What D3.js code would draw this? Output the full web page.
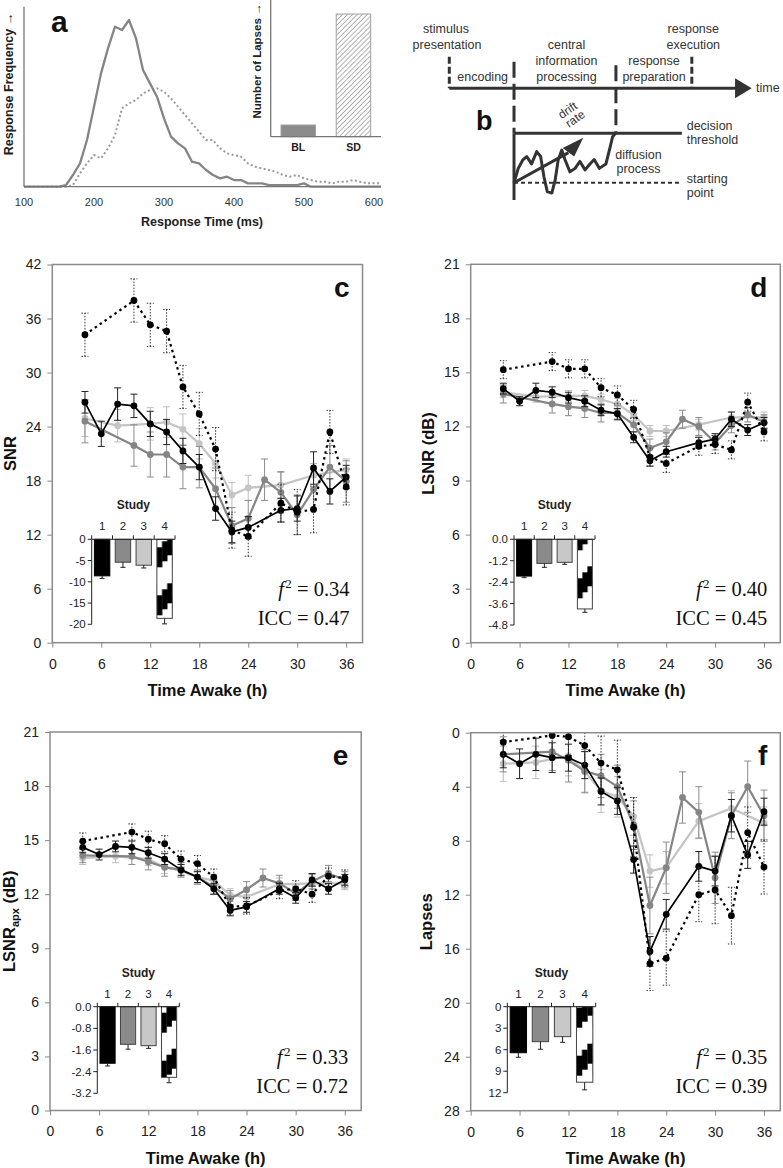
<!DOCTYPE html>
<html><head><meta charset="utf-8">
<script src="https://cdn.jsdelivr.net/npm/d3@7"></script>
<style>body{margin:0;background:#fff}svg{display:block}</style>
</head><body>
<svg id="chart" width="783" height="1168"></svg>
<script>
// ---------------- DATA ----------------
// Panel a: response time distributions
const rtMs   = [100,140,150,160,170,180,190,200,210,220,230,240,250,260,270,280,290,300,310,320,330,340,350,360,370,380,390,400,410,420,430,440,450,460,470,480,490,500,510,520,530,540,550,560,570,580,590,600,610];
const blFreq = [0,0,0,1,7,14,28,48,68,83,96,94,100,89,70,62,54,41,30,26,23,15,14,10,7,5,6,4,4,2,2,2,1,1,1,1,1,2,0,0,0,0,0,0,0,0,0,0,0];
const sdFreq = [0,0,0,0,1,8,14,19,17,23,31,47,50,52,56,58,59,57,53,48,43,38,33,28,28,23,20,19,18,14,12,11,10,9,7,6,7,5,4,3,3,2,3,3,4,3,2,2,2];
const rtTicks = [100,200,300,400,500,600];
const lapseCats = ['BL','SD'];
const lapseVals = [10,105];

// Panel b: schematic (time units 0-100, evidence units: start 0, threshold 1)
const stageBounds = [0,21.4,55.1,80.2];
const diffT = [21.4,22.8,24.3,25.6,27.2,28.9,30.2,31.3,32.4,33.9,35.0,36.0,37.2,38.3,39.9,41.6,43.2,44.9,46.5,47.9,49.6,51.8,53.1,54.0,55.1];
const diffE = [0,0.29,0.46,0.53,0.38,0.63,0.53,0.12,-0.18,-0.21,0.05,0.46,0.66,0.46,0.22,0.29,0.43,0.26,0.38,0.47,0.29,0.38,0.70,0.93,1.01];

// Panels c-f
const studies = ['1','2','3','4'];
const xTicks = [0,6,12,18,24,30,36];
const hoursS1 = [4,6,8,10,12,14,16,18,20,22,24,28,30,32,34,36];
const hoursS2 = [4,10,12,14,16,18,20,22,24,26,28,30,32,34,36];
const hoursS3 = [4,8,12,14,16,18,20,22,24,28,32,36];
const hoursS4 = [4,10,12,14,16,18,20,22,24,28,30,32,34,36];

const snrTicks = [0,6,12,18,24,30,36,42];
const snrS1 = [26.7,23.2,26.5,26.3,24.3,23.4,21.3,19.5,14.9,12.3,12.8,14.7,14.9,19.4,16.8,18.4];
const snrS1Err = [1.2,1.4,1.8,1.3,1.4,1.4,1.4,1.4,1.3,1.2,1.2,1.3,1.4,1.8,1.4,1.3];
const snrS2 = [24.6,21.9,20.9,20.9,19.5,19.5,17.1,13.0,13.8,18.1,16.7,14.2,17.0,19.5,17.9];
const snrS2Err = [2.4,2.3,2.5,2.5,2.4,2.3,2.3,2.0,2.0,2.3,2.3,2.2,2.2,2.4,2.3];
const snrS3 = [24.9,24.1,24.3,24.5,23.7,22.1,19.9,16.4,17.2,17.5,18.6,19.2];
const snrS3Err = [2.0,1.8,1.8,1.7,1.7,1.7,1.6,1.4,1.4,1.4,1.3,1.2];
const snrS4 = [34.2,38.0,35.3,34.6,28.4,25.4,21.5,12.5,11.8,15.5,14.5,14.8,23.4,17.3];
const snrS4Err = [2.4,2.4,2.4,2.4,2.4,2.4,2.4,2.0,2.2,2.1,2.5,2.6,2.4,2.0];

const lsnrTicks = [0,3,6,9,12,15,18,21];
const lsnrS1 = [14.1,13.4,14.0,13.9,13.6,13.4,12.9,12.7,11.4,10.1,10.6,11.1,11.3,12.4,11.8,12.2];
const lsnrS1Err = [0.3,0.25,0.4,0.3,0.3,0.3,0.3,0.3,0.3,0.3,0.3,0.3,0.3,0.4,0.3,0.3];
const lsnrS2 = [13.8,13.25,13.1,13.0,12.75,12.75,12.1,10.8,11.15,12.4,12.0,11.1,12.05,12.65,12.25];
const lsnrS2Err = [0.5,0.5,0.5,0.5,0.5,0.4,0.4,0.5,0.5,0.5,0.5,0.4,0.4,0.4,0.4];
const lsnrS3 = [13.9,13.65,13.7,13.7,13.5,13.25,12.65,11.75,11.75,12.1,12.5,12.5];
const lsnrS3Err = [0.3,0.3,0.3,0.3,0.3,0.3,0.3,0.3,0.3,0.3,0.3,0.3];
const lsnrS4 = [15.15,15.6,15.2,15.2,14.15,13.75,12.95,10.3,9.95,10.9,11.0,10.7,13.35,11.7];
const lsnrS4Err = [0.5,0.5,0.5,0.5,0.5,0.5,0.5,0.5,0.5,0.5,0.5,0.5,0.5,0.5];

const apxTicks = [0,3,6,9,12,15,18,21];
const apxS1 = [14.6,14.2,14.65,14.6,14.3,13.95,13.35,12.95,12.3,11.1,11.3,12.3,11.8,12.8,12.3,12.8];
const apxS1Err = [0.3,0.3,0.3,0.35,0.3,0.3,0.3,0.3,0.3,0.3,0.3,0.3,0.3,0.35,0.3,0.3];
const apxS2 = [14.15,14.1,13.8,13.5,13.35,12.95,12.4,11.75,12.25,12.9,12.6,12.05,12.7,13.15,12.8];
const apxS2Err = [0.4,0.45,0.45,0.5,0.4,0.4,0.4,0.45,0.45,0.5,0.45,0.4,0.4,0.45,0.45];
const apxS3 = [14.0,14.1,13.95,13.5,13.3,12.95,12.75,11.95,11.85,12.55,12.6,12.6];
const apxS3Err = [0.35,0.35,0.35,0.35,0.35,0.35,0.35,0.35,0.35,0.35,0.35,0.35];
const apxS4 = [14.95,15.45,15.05,14.8,13.95,13.7,12.95,11.3,11.35,12.2,12.3,12.0,13.0,12.9];
const apxS4Err = [0.45,0.45,0.45,0.45,0.45,0.45,0.45,0.45,0.45,0.45,0.45,0.45,0.45,0.45];

const lapTicks = [0,4,8,12,16,20,24,28];
const lapS1 = [1.6,2.3,1.6,1.85,1.85,2.4,4.35,5.05,9.4,16.2,13.45,9.9,10.25,6.15,9.05,5.85];
const lapS1Err = [1.0,1.1,1.2,1.1,1.0,1.0,1.0,1.0,1.0,1.1,1.1,1.1,1.1,1.2,1.0,1.0];
const lapS2 = [1.6,1.4,2.05,2.85,3.2,4.0,6.85,12.8,10.0,4.8,5.9,10.75,6.15,4.0,6.15];
const lapS2Err = [1.3,1.4,1.6,1.6,1.6,1.6,1.8,2.1,1.9,1.9,1.9,1.9,1.7,1.9,1.9];
const lapS3 = [2.3,2.2,1.7,2.9,4.3,4.75,6.2,10.25,10.0,6.55,5.6,6.7];
const lapS3Err = [1.3,1.2,1.5,1.5,1.6,1.5,1.4,1.2,1.2,1.3,1.3,1.2];
const lapS4 = [0.7,0.2,0.3,0.95,2.25,2.75,7.0,17.1,16.7,12.0,11.65,13.55,7.4,9.95];
const lapS4Err = [1.0,1.4,1.4,1.4,2.0,2.2,2.2,2.0,2.0,2.0,2.5,2.1,1.9,2.0];

// Insets (study effect)
const insetSNR = [-8.6,-5.4,-6.1,-18.6];
const insetSNRErr = [0.6,1.2,0.65,1.3];
const insetSNRTicks = [0,-5,-10,-15,-20];
const insetLSNR = [-2.06,-1.35,-1.29,-3.9];
const insetLSNRErr = [0.09,0.22,0.11,0.19];
const insetLSNRTicks = [0,-1.2,-2.4,-3.6,-4.8];
const insetApx = [-2.09,-1.39,-1.44,-2.61];
const insetApxErr = [0.1,0.18,0.1,0.2];
const insetApxTicks = [0,-0.8,-1.6,-2.4,-3.2];
const insetLapse = [6.42,4.88,4.18,10.54];
const insetLapseErr = [0.64,1.06,0.79,1.06];
const insetLapseTicks = [0,3,6,9,12];

// ---------------- DRAWING ----------------
const SANS = "'Liberation Sans', Arial, Helvetica, sans-serif";
const SERIF = "'Liberation Serif', 'Times New Roman', serif";
const svg = d3.select('#chart');
const defs = svg.append('defs');

// ===== Panel a =====
(function(){
  const g = svg.append('g');
  const x = d3.scaleLinear().domain([100,610]).range([24,381]);
  const y = d3.scaleLinear().domain([0,108]).range([186.7,6.7]);
  const pts = rtMs.map((m,i)=>({m, bl: blFreq[i], sd: sdFreq[i]}));
  const line = k => d3.line().x(d=>x(d.m)).y(d=>y(d[k]));
  g.append('path').datum(pts).attr('d', line('sd')).attr('fill','none')
    .attr('stroke','#9a9a9a').attr('stroke-width',2).attr('stroke-dasharray','2,2.5');
  g.append('path').datum(pts).attr('d', line('bl')).attr('fill','none')
    .attr('stroke','#858585').attr('stroke-width',2.3).attr('stroke-linejoin','round');
  // axes
  g.append('line').attr('x1',x(100)).attr('x2',x(100)).attr('y1',y(108)).attr('y2',y(0)).attr('stroke','#777').attr('stroke-width',1.3);
  g.append('line').attr('x1',x(100)).attr('x2',x(610)).attr('y1',y(0)).attr('y2',y(0)).attr('stroke','#777').attr('stroke-width',1.3);
  g.selectAll('text.rt').data(rtTicks).join('text').attr('x',d=>x(d)).attr('y',206)
    .attr('text-anchor','middle').attr('font-family',SANS).attr('font-size',11).style('fill','#333').text(d=>d);
  g.append('text').attr('x',202).attr('y',226).attr('text-anchor','middle').attr('font-family',SANS)
    .attr('font-weight','bold').attr('font-size',12.5).attr('fill','#222').text('Response Time (ms)');
  g.append('text').attr('transform','translate(12.5,84) rotate(-90)').attr('text-anchor','middle')
    .attr('font-family',SANS).attr('font-weight','bold').attr('font-size',12.5).attr('fill','#222').text('Response Frequency \u2192');
  g.append('text').attr('x',51).attr('y',32).attr('font-family',SANS).attr('font-weight','bold').attr('font-size',30).attr('fill','#111').text('a');

  // inset bars
  const pat = defs.append('pattern').attr('id','hatch').attr('patternUnits','userSpaceOnUse')
    .attr('width',3.5).attr('height',3.5).attr('patternTransform','rotate(45)');
  pat.append('rect').attr('width',3.5).attr('height',3.5).attr('fill','#fff');
  pat.append('line').attr('x1',0).attr('y1',0).attr('x2',0).attr('y2',3.5).attr('stroke','#8a8a8a').attr('stroke-width',1.3);
  const lx = d3.scaleBand().domain(lapseCats).range([270.7,381]).paddingInner(0.375).paddingOuter(0.187);
  const ly = d3.scaleLinear().domain([0,117]).range([136.7,0]);
  g.selectAll('rect.lb').data(lapseCats).join('rect')
    .attr('x',d=>lx(d)).attr('width',lx.bandwidth())
    .attr('y',(d,i)=>ly(lapseVals[i])).attr('height',(d,i)=>ly(0)-ly(lapseVals[i]))
    .attr('fill',(d,i)=>i===0?'#8c8c8c':'url(#hatch)').attr('stroke','#a0a0a0').attr('stroke-width',1);
  g.append('line').attr('x1',270.7).attr('x2',270.7).attr('y1',0).attr('y2',ly(0)).attr('stroke','#777').attr('stroke-width',1.3);
  g.append('line').attr('x1',270.7).attr('x2',381).attr('y1',ly(0)).attr('y2',ly(0)).attr('stroke','#777').attr('stroke-width',1.3);
  g.selectAll('text.lc').data(lapseCats).join('text').attr('x',d=>lx(d)+lx.bandwidth()/2).attr('y',150.5)
    .attr('text-anchor','middle').attr('font-family',SANS).attr('font-weight','bold').attr('font-size',10.5).attr('fill','#222').text(d=>d);
  g.append('text').attr('transform','translate(261,61) rotate(-90)').attr('text-anchor','middle')
    .attr('font-family',SANS).attr('font-weight','bold').attr('font-size',11.5).attr('fill','#222').text('Number of Lapses \u2192');
})();

// ===== Panel b =====
(function(){
  const g = svg.append('g');
  const bx = d3.scaleLinear().domain([0,100]).range([449.3,751.7]);
  const by = d3.scaleLinear().domain([0,1]).range([182.7,133.3]);
  const C = '#333';
  const axisLv = 1.91;
  g.append('line').attr('x1',bx(0)).attr('x2',bx(95)).attr('y1',by(axisLv)).attr('y2',by(axisLv)).attr('stroke',C).attr('stroke-width',3);
  g.append('polygon').attr('points',[[bx(94.5),by(axisLv)-10],[bx(100),by(axisLv)],[bx(94.5),by(axisLv)+10]].join(' ')).attr('fill',C);
  const vmark = (t, e0, e1, dash) => g.append('line').attr('x1',bx(t)).attr('x2',bx(t)).attr('y1',by(e0)).attr('y2',by(e1))
      .attr('stroke',C).attr('stroke-width',3).attr('stroke-dasharray',dash);
  vmark(stageBounds[0], 2.55, axisLv, '7,3');
  vmark(stageBounds[1], 2.45, 1, '16,6');
  vmark(stageBounds[1], 1, -0.35, null);
  vmark(stageBounds[2], 2.38, 1, '16,6');
  vmark(stageBounds[3], 2.55, axisLv, '7,3');
  g.append('line').attr('x1',bx(stageBounds[1])).attr('x2',bx(76.9)).attr('y1',by(1)).attr('y2',by(1)).attr('stroke',C).attr('stroke-width',3);
  g.append('line').attr('x1',bx(stageBounds[1])).attr('x2',bx(76.9)).attr('y1',by(0)).attr('y2',by(0)).attr('stroke',C).attr('stroke-width',2).attr('stroke-dasharray','4,3');
  const dp = diffT.map((t,i)=>[t,diffE[i]]);
  g.append('path').datum(dp).attr('d',d3.line().x(d=>bx(d[0])).y(d=>by(d[1]))).attr('fill','none')
    .attr('stroke',C).attr('stroke-width',3).attr('stroke-linejoin','round');
  g.append('line').attr('x1',bx(21.4)).attr('y1',by(0)).attr('x2',bx(39.4)).attr('y2',by(0.61)).attr('stroke',C).attr('stroke-width',3);
  g.append('polygon').attr('points',[[bx(37.5),by(0.70)],[bx(44.3),by(0.91)],[bx(41.3),by(0.53)]].join(' ')).attr('fill',C);
  const T = (s,x,y,anchor,size) => g.append('text').attr('x',x).attr('y',y).attr('text-anchor',anchor||'middle')
      .attr('font-family',SANS).attr('font-size',size||12.5).attr('fill','#333').text(s);
  T('stimulus',446,33); T('presentation',447,48.5);
  T('encoding',482.7,80.5);
  T('central',566.5,48.5); T('information',566.5,64.5); T('processing',566.5,80.5);
  T('response',654,64.5); T('preparation',654,80.5);
  T('response',693.3,33); T('execution',693.3,48.5);
  T('time',756,91.5,'start');
  T('decision',686.7,129.5,'start'); T('threshold',686.7,143.8,'start');
  T('diffusion',638.5,158.5); T('process',638.5,172.8);
  T('starting',686.7,182.8,'start'); T('point',686.7,197.2,'start');
  g.append('text').attr('transform','translate(570,113.5) rotate(-35)').attr('text-anchor','middle').attr('font-family',SANS).attr('font-size',12).attr('fill','#333').text('drift');
  g.append('text').attr('transform','translate(577.5,122) rotate(-35)').attr('text-anchor','middle').attr('font-family',SANS).attr('font-size',12).attr('fill','#333').text('rate');
  g.append('text').attr('x',476).attr('y',130).attr('font-family',SANS).attr('font-weight','bold').attr('font-size',27).attr('fill','#111').text('b');
})();

// ===== Panels c-f =====
const panels = [
  {id:'c', left:52.3, top:264.5, bottom:642.7, pxh:8.164, yMax:42, yTicks:snrTicks, inverted:false,
   s:[snrS1,snrS2,snrS3,snrS4], e:[snrS1Err,snrS2Err,snrS3Err,snrS4Err],
   yTitle:[{t:'SNR'}], yTitleX:15.5, f2:'0.34', icc:'0.47',
   inset:{x0:91.7, top:539.3, bottom:624.3, w:83.3, vals:insetSNR, errs:insetSNRErr, ticks:insetSNRTicks, dec:0, phase:-4}},
  {id:'d', left:470.7, top:264.3, bottom:642.7, pxh:8.147, yMax:21, yTicks:lsnrTicks, inverted:false,
   s:[lsnrS1,lsnrS2,lsnrS3,lsnrS4], e:[lsnrS1Err,lsnrS2Err,lsnrS3Err,lsnrS4Err],
   yTitle:[{t:'LSNR (dB)'}], yTitleX:433.5, f2:'0.40', icc:'0.45',
   inset:{x0:514, top:539.3, bottom:625, w:81, vals:insetLSNR, errs:insetLSNRErr, ticks:insetLSNRTicks, dec:1, phase:27}},
  {id:'e', left:50, top:732, bottom:1110.5, pxh:8.19, yMax:21, yTicks:apxTicks, inverted:false,
   s:[apxS1,apxS2,apxS3,apxS4], e:[apxS1Err,apxS2Err,apxS3Err,apxS4Err],
   yTitle:[{t:'LSNR'},{t:'apx',sub:true},{t:' (dB)'}], yTitleX:14.5, f2:'0.33', icc:'0.72',
   inset:{x0:97.3, top:1006.7, bottom:1093.3, w:82, vals:insetApx, errs:insetApxErr, ticks:insetApxTicks, dec:1, phase:-6}},
  {id:'f', left:470.7, top:732.7, bottom:1110.7, pxh:8.147, yMax:28, yTicks:lapTicks, inverted:true,
   s:[lapS1,lapS2,lapS3,lapS4], e:[lapS1Err,lapS2Err,lapS3Err,lapS4Err],
   yTitle:[{t:'Lapses'}], yTitleX:432, f2:'0.35', icc:'0.39',
   inset:{x0:507.3, top:1006.7, bottom:1092.7, w:88.4, vals:insetLapse, errs:insetLapseErr, ticks:insetLapseTicks, dec:0, phase:37}}
];
const hoursAll = [hoursS1,hoursS2,hoursS3,hoursS4];
const sColor = ['#000','#858585','#c4c4c4','#000'];
const eColor = ['#222','#8c8c8c','#bdbdbd','#333'];
const sWidth = [1.7,2.2,2.2,2.2];

panels.forEach(p=>{
  const g = svg.append('g');
  const right = p.left + 38*p.pxh;
  const x = d3.scaleLinear().domain([0,38]).range([p.left,right]);
  const y = d3.scaleLinear().domain([0,p.yMax]).range(p.inverted?[p.top,p.bottom]:[p.bottom,p.top]);
  defs.append('clipPath').attr('id','clip-'+p.id).append('rect')
    .attr('x',p.left).attr('y',p.top).attr('width',right-p.left).attr('height',p.bottom-p.top);

  const xa = g.append('g').attr('transform',`translate(0,${p.bottom})`)
    .call(d3.axisBottom(x).tickValues(xTicks).tickSize(5).tickSizeOuter(0).tickPadding(11));
  xa.select('.domain').remove();
  xa.selectAll('line').attr('stroke','#8a8a8a');
  xa.selectAll('text').attr('font-family',SANS).attr('font-size',14).attr('fill','#222');
  const ya = g.append('g').attr('transform',`translate(${p.left},0)`)
    .call(d3.axisLeft(y).tickValues(p.yTicks).tickSize(5).tickSizeOuter(0).tickPadding(6));
  ya.select('.domain').remove();
  ya.selectAll('line').attr('stroke','#8a8a8a');
  ya.selectAll('text').attr('font-family',SANS).attr('font-size',14).attr('fill','#222');

  g.append('text').attr('x',(p.left+right)/2).attr('y',p.bottom+53).attr('text-anchor','middle')
    .attr('font-family',SANS).attr('font-weight','bold').attr('font-size',16.5).attr('fill','#111').text('Time Awake (h)');
  const yt = g.append('text').attr('transform',`translate(${p.yTitleX},${(p.top+p.bottom)/2}) rotate(-90)`)
    .attr('text-anchor','middle').attr('font-family',SANS).attr('font-weight','bold').attr('font-size',16.5).attr('fill','#111');
  p.yTitle.forEach((part,k)=>{
    const ts = yt.append('tspan').text(part.t);
    if(part.sub) ts.attr('font-size',11).attr('dy',4);
    else if(k>0) ts.attr('dy',-4);
  });

  const plotG = g.append('g').attr('clip-path',`url(#clip-${p.id})`);
  [2,1,0,3].forEach(si=>{
    const pts = hoursAll[si].map((h,i)=>({h, v:p.s[si][i], e:p.e[si][i]}));
    const dotted = si===3;
    const eg = plotG.append('g').attr('stroke',eColor[si]).attr('stroke-width',1)
      .attr('stroke-dasharray',dotted?'1.5,1.5':null);
    eg.selectAll('line.v').data(pts).join('line').attr('x1',d=>x(d.h)).attr('x2',d=>x(d.h))
      .attr('y1',d=>y(d.v-d.e)).attr('y2',d=>y(d.v+d.e));
    eg.selectAll('line.t').data(pts).join('line').attr('x1',d=>x(d.h)-3.5).attr('x2',d=>x(d.h)+3.5)
      .attr('y1',d=>y(d.v+d.e)).attr('y2',d=>y(d.v+d.e));
    eg.selectAll('line.b').data(pts).join('line').attr('x1',d=>x(d.h)-3.5).attr('x2',d=>x(d.h)+3.5)
      .attr('y1',d=>y(d.v-d.e)).attr('y2',d=>y(d.v-d.e));
    plotG.append('path').datum(pts).attr('d',d3.line().x(d=>x(d.h)).y(d=>y(d.v)))
      .attr('fill','none').attr('stroke',sColor[si]).attr('stroke-width',sWidth[si])
      .attr('stroke-dasharray',dotted?'2.5,3.5':null).attr('stroke-linejoin','round');
    plotG.selectAll(null).data(pts).join('circle').attr('cx',d=>x(d.h)).attr('cy',d=>y(d.v))
      .attr('r',3.4).attr('fill',sColor[si]);
  });

  g.append('rect').attr('x',p.left).attr('y',p.top).attr('width',right-p.left).attr('height',p.bottom-p.top)
    .attr('fill','none').attr('stroke','#8a8a8a').attr('stroke-width',1.5);

  g.append('text').attr('x',right-13).attr('y',p.top+32.5).attr('text-anchor','end')
    .attr('font-family',SANS).attr('font-weight','bold').attr('font-size',28).attr('fill','#111').text(p.id);

  const s1 = g.append('text').attr('x',right-13).attr('y',p.bottom-46.5).attr('text-anchor','end')
    .attr('font-family',SERIF).attr('font-size',20.5).attr('fill','#111');
  s1.append('tspan').attr('font-style','italic').text('f');
  s1.append('tspan').attr('font-size',13).attr('dx',1.5).attr('dy',-8).text('2');
  s1.append('tspan').attr('dy',8).text(' = '+p.f2);
  g.append('text').attr('x',right-13).attr('y',p.bottom-18).attr('text-anchor','end')
    .attr('font-family',SERIF).attr('font-size',20.5).attr('fill','#111').text('ICC = '+p.icc);

  const ins = p.inset;
  const ib = d3.scaleBand().domain(studies).range([ins.x0, ins.x0+ins.w]).paddingInner(0.26).paddingOuter(0.13);
  const iext = ins.ticks[ins.ticks.length-1];
  const iy = d3.scaleLinear().domain([0,iext]).range([ins.top,ins.bottom]);
  const fmt = t => (t<0?'-':'') + Math.abs(t).toFixed(ins.dec);
  const bw = ib.bandwidth();
  const pat = defs.append('pattern').attr('id','pat-'+p.id).attr('patternUnits','userSpaceOnUse')
    .attr('x',ib('4')).attr('y',ins.top+ins.phase).attr('width',bw).attr('height',48);
  pat.append('rect').attr('width',bw).attr('height',48).attr('fill','#fff');
  [[2,0],[1,6],[0,12]].forEach(([col,off])=>{
    pat.append('rect').attr('x',col*bw/3).attr('y',off).attr('width',bw/3+0.3).attr('height',20).attr('fill','#000');
  });
  const iFill = ['#000','#8a8a8a','#c8c8c8','url(#pat-'+p.id+')'];
  const ig = g.append('g');
  ig.selectAll('rect').data(studies).join('rect')
    .attr('x',d=>ib(d)).attr('width',bw)
    .attr('y',(d,i)=>Math.min(iy(0),iy(ins.vals[i]))).attr('height',(d,i)=>Math.abs(iy(ins.vals[i])-iy(0)))
    .attr('fill',(d,i)=>iFill[i]).attr('stroke',(d,i)=>i===0?'#000':'#444').attr('stroke-width',1);
  const errEnd = i => ins.vals[i] + Math.sign(ins.vals[i])*ins.errs[i];
  ig.selectAll('line.ev').data(studies).join('line').attr('x1',d=>ib(d)+bw/2).attr('x2',d=>ib(d)+bw/2)
    .attr('y1',(d,i)=>iy(ins.vals[i])).attr('y2',(d,i)=>iy(errEnd(i))).attr('stroke','#222').attr('stroke-width',1);
  ig.selectAll('line.ec').data(studies).join('line').attr('x1',d=>ib(d)+bw/2-2.5).attr('x2',d=>ib(d)+bw/2+2.5)
    .attr('y1',(d,i)=>iy(errEnd(i))).attr('y2',(d,i)=>iy(errEnd(i))).attr('stroke','#222').attr('stroke-width',1);
  ig.append('line').attr('x1',ins.x0).attr('x2',ins.x0).attr('y1',ins.top).attr('y2',ins.bottom).attr('stroke','#222').attr('stroke-width',1);
  ig.append('line').attr('x1',ins.x0).attr('x2',ins.x0+ins.w).attr('y1',ins.top).attr('y2',ins.top).attr('stroke','#222').attr('stroke-width',1);
  ig.selectAll('line.yt').data(ins.ticks).join('line').attr('x1',ins.x0-4).attr('x2',ins.x0)
    .attr('y1',d=>iy(d)).attr('y2',d=>iy(d)).attr('stroke','#222');
  ig.selectAll('text.yl').data(ins.ticks).join('text').attr('x',ins.x0-6).attr('y',d=>iy(d)).attr('dy','0.35em')
    .attr('text-anchor','end').attr('font-family',SANS).attr('font-size',11.5).attr('fill','#222').text(fmt);
  const step = ib.step();
  ig.selectAll('line.xt').data([0,1,2,3,4]).join('line').attr('x1',d=>ins.x0+d*step).attr('x2',d=>ins.x0+d*step)
    .attr('y1',ins.top-4).attr('y2',ins.top).attr('stroke','#222');
  ig.selectAll('text.xl').data(studies).join('text').attr('x',d=>ib(d)+bw/2).attr('y',ins.top-9)
    .attr('text-anchor','middle').attr('font-family',SANS).attr('font-size',11.5).attr('fill','#222').text(d=>d);
  ig.append('text').attr('x',ins.x0+ins.w/2).attr('y',ins.top-30).attr('text-anchor','middle')
    .attr('font-family',SANS).attr('font-weight','bold').attr('font-size',12).attr('fill','#222').text('Study');
});
</script>
</body></html>
